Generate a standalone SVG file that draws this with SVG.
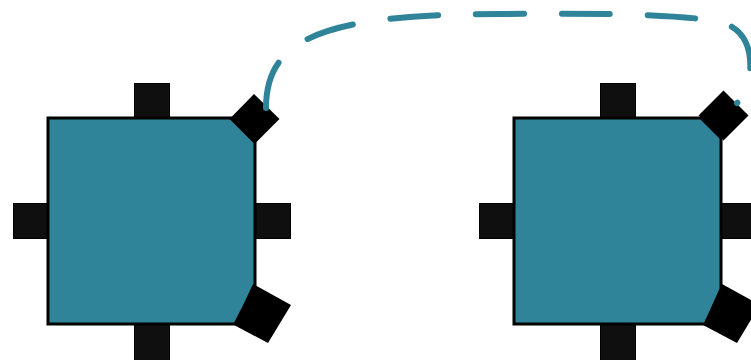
<svg xmlns="http://www.w3.org/2000/svg" width="751" height="360" viewBox="0 0 751 360">
<style>
.port{fill:#0f0f0f;stroke:#000;stroke-width:1}
.body{fill:#2f8499;stroke:#000;stroke-width:3;stroke-linejoin:miter}
.corner{fill:#000}
.link{fill:none;stroke:#2f8499;stroke-width:6;stroke-linecap:round;stroke-dasharray:48.5 38.5}
</style>
<rect width="751" height="360" fill="#fff"/>
<g id="node-left">
<rect class="port" x="134.5" y="83.5" width="35" height="35"/>
<rect class="port" x="13.5" y="203.5" width="35" height="35"/>
<rect class="port" x="255.5" y="203.5" width="35" height="35"/>
<rect class="port" x="134.5" y="324.5" width="35" height="36"/>
<polygon class="body" points="48,118 233,118 255,141 255,286 235,324 48,324"/>
<polygon class="corner" points="254,94 279.5,119 254.5,144 229.5,119"/>
<polygon class="corner" points="253,284 291,305 268,343 234,325"/>
</g>
<g id="node-right">
<rect class="port" x="600.5" y="83.5" width="35" height="35"/>
<rect class="port" x="479.5" y="203.5" width="35" height="35"/>
<rect class="port" x="721.5" y="203.5" width="35" height="35"/>
<rect class="port" x="600.5" y="324.5" width="35" height="36"/>
<polygon class="body" points="514,118 701,118 721,138 721,289 706,324 514,324"/>
<polygon class="corner" points="723.5,90.5 748.5,115.5 723.5,140.5 698.5,115.5"/>
<polygon class="corner" points="722,284 760,305 737,343 703,325"/>
</g>
<g id="connectors">
<path class="link" pathLength="609.5" d="M266,108 C266,40 320,14 500,14 C600,13 680,14 720,22 C745,28 752,50 750,73 C749,88 744,97 737,103"/>
</g>
</svg>
